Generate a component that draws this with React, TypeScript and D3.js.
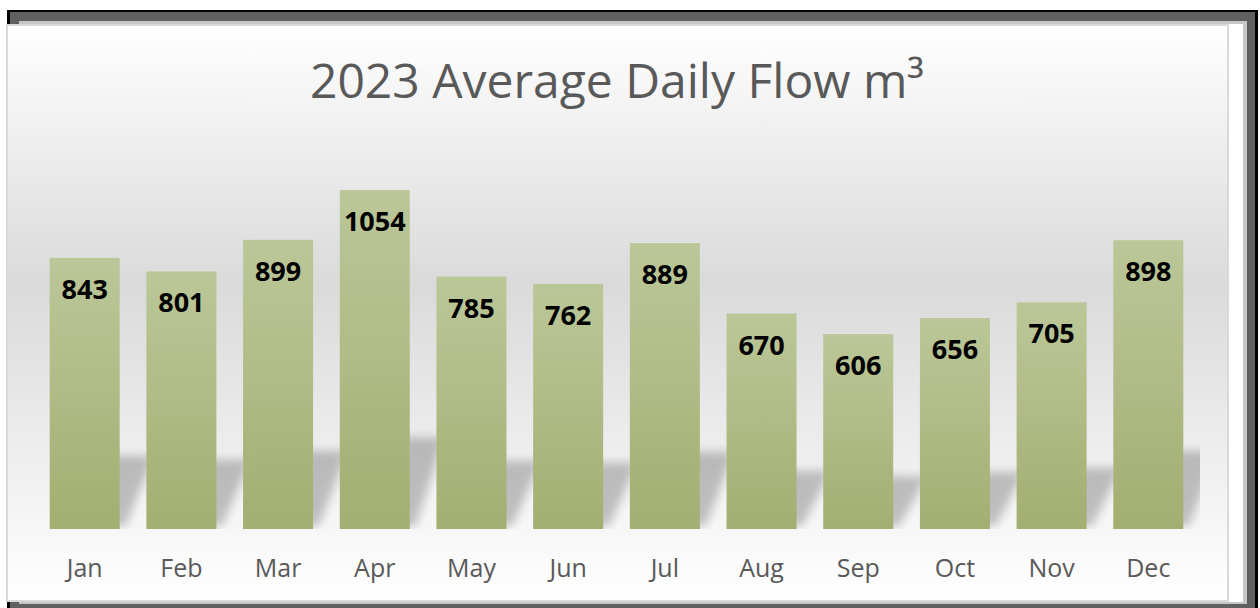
import React, { useRef, useEffect } from 'react';
import * as d3 from 'd3';

const months = ['Jan', 'Feb', 'Mar', 'Apr', 'May', 'Jun', 'Jul', 'Aug', 'Sep', 'Oct', 'Nov', 'Dec'];
const flows = [843, 801, 899, 1054, 785, 762, 889, 670, 606, 656, 705, 898];
const chartTitle = '2023 Average Daily Flow m³';

const App = () => {
  const ref = useRef<SVGSVGElement | null>(null);

  useEffect(() => {
    const svg = d3.select(ref.current);
    svg.selectAll('*').remove();
    const width = 1260;
    const height = 608;
    const baseline = 529;

    const defs = svg.append('defs');
    const bg = defs.append('linearGradient').attr('id', 'bg').attr('x1', 0).attr('y1', 0).attr('x2', 0).attr('y2', 1);
    bg.append('stop').attr('offset', '0%').attr('stop-color', '#ffffff');
    bg.append('stop').attr('offset', '45%').attr('stop-color', '#dadada');
    bg.append('stop').attr('offset', '100%').attr('stop-color', '#ffffff');

    const barGrad = defs.append('linearGradient').attr('id', 'bar').attr('x1', 0).attr('y1', 0).attr('x2', 0).attr('y2', 1);
    barGrad.append('stop').attr('offset', '0%').attr('stop-color', '#bcc799');
    barGrad.append('stop').attr('offset', '100%').attr('stop-color', '#a3ae71');

    defs.append('filter').attr('id', 'blur').attr('x', '-30%').attr('y', '-30%').attr('width', '160%').attr('height', '160%')
      .append('feGaussianBlur').attr('stdDeviation', 5);

    defs.append('clipPath').attr('id', 'plotclip')
      .append('rect').attr('x', 30).attr('y', 100).attr('width', 1170).attr('height', baseline - 100);

    // frame
    svg.append('rect').attr('x', 7).attr('y', 10).attr('width', 1251).attr('height', height - 10).attr('fill', '#000');
    svg.append('rect').attr('x', 10).attr('y', 12).attr('width', 1245).attr('height', height - 12).attr('fill', '#606060');
    svg.append('rect').attr('x', 19).attr('y', 21).attr('width', 1228).attr('height', 583).attr('fill', '#c6c6c6');
    svg.append('rect').attr('x', 19).attr('y', 24).attr('width', 1224).attr('height', 578).attr('fill', '#ffffff');
    svg.append('rect').attr('x', 7).attr('y', 25).attr('width', 1221).attr('height', 576)
      .attr('fill', 'url(#bg)').attr('stroke', '#d9d9d9').attr('stroke-width', 2);

    const x = d3.scaleBand<string>().domain(months).range([23, 1210]).padding(0.276);
    const y = d3.scaleLinear().domain([0, 1200]).range([baseline, baseline - 1200 * 0.32163]);

    // perspective shadows behind the bars
    svg.append('g').attr('clip-path', 'url(#plotclip)')
      .selectAll('path')
      .data(flows)
      .join('path')
      .attr('d', (d, i) => {
        const x0 = x(months[i]) as number;
        const w = x.bandwidth();
        const h = (baseline - y(d)) * 0.27;
        return `M${x0 + 6},${baseline - 3} L${x0 + w + 6},${baseline - 3} L${x0 + w + 34},${baseline - h} L${x0 + 34},${baseline - h} Z`;
      })
      .attr('fill', '#000')
      .attr('opacity', 0.22)
      .attr('filter', 'url(#blur)');

    svg.append('g')
      .selectAll('rect')
      .data(flows)
      .join('rect')
      .attr('x', (d, i) => x(months[i]) as number)
      .attr('y', d => y(d))
      .attr('width', x.bandwidth())
      .attr('height', d => baseline - y(d))
      .attr('fill', 'url(#bar)');

    svg.append('g')
      .selectAll('text')
      .data(flows)
      .join('text')
      .attr('x', (d, i) => (x(months[i]) as number) + x.bandwidth() / 2)
      .attr('y', d => y(d) + 41)
      .attr('text-anchor', 'middle')
      .attr('font-family', 'Open Sans')
      .attr('font-weight', 'bold')
      .attr('font-size', 27)
      .attr('fill', '#000')
      .text(d => d);

    svg.append('g')
      .selectAll('text')
      .data(months)
      .join('text')
      .attr('x', d => (x(d) as number) + x.bandwidth() / 2)
      .attr('y', 577)
      .attr('text-anchor', 'middle')
      .attr('font-family', 'Open Sans')
      .attr('font-size', 25)
      .attr('fill', '#595959')
      .text(d => d);

    svg.append('text')
      .attr('x', 617)
      .attr('y', 98)
      .attr('text-anchor', 'middle')
      .attr('font-family', 'Open Sans')
      .attr('font-size', 48)
      .attr('fill', '#595959')
      .text(chartTitle);

    svg.attr('width', width).attr('height', height);
  }, []);

  return (
    <svg ref={ref} width={1260} height={608} style={{ position: 'absolute', left: 0, top: 0 }}></svg>
  );
};

export default App;
